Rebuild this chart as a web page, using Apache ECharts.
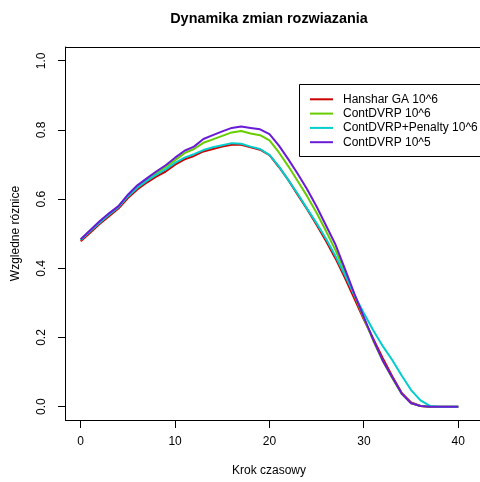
<!DOCTYPE html>
<html>
<head>
<meta charset="utf-8">
<script src="https://cdn.jsdelivr.net/npm/echarts@6/dist/echarts.min.js"></script>
<style>html,body{margin:0;padding:0;background:#fff;}#c{width:480px;height:482px;}</style>
</head>
<body>
<div id="c"></div>
<script>
const steps = [0,1,2,3,4,5,6,7,8,9,10,11,12,13,14,15,16,17,18,19,20,21,22,23,24,25,26,27,28,29,30,31,32,33,34,35,36,37,38,39,40];
const hanshar = [0.478,0.503,0.528,0.551,0.573,0.603,0.628,0.648,0.665,0.680,0.700,0.715,0.725,0.738,0.745,0.752,0.757,0.757,0.750,0.743,0.727,0.693,0.655,0.612,0.570,0.525,0.478,0.428,0.372,0.312,0.252,0.196,0.140,0.088,0.040,0.012,0.002,0,0,0,0];
const contdvrp6 = [0.483,0.509,0.535,0.558,0.579,0.611,0.638,0.657,0.676,0.693,0.713,0.733,0.745,0.763,0.773,0.783,0.793,0.797,0.790,0.785,0.770,0.735,0.695,0.652,0.608,0.560,0.507,0.452,0.390,0.322,0.255,0.190,0.132,0.083,0.037,0.010,0.002,0,0,0,0];
const penalty6 = [0.482,0.507,0.532,0.555,0.577,0.608,0.633,0.653,0.670,0.686,0.705,0.720,0.730,0.742,0.750,0.756,0.762,0.760,0.752,0.745,0.728,0.695,0.655,0.615,0.572,0.530,0.485,0.435,0.380,0.322,0.270,0.220,0.175,0.135,0.090,0.048,0.018,0.002,0,0,0];
const contdvrp5 = [0.484,0.510,0.536,0.559,0.580,0.613,0.640,0.660,0.680,0.698,0.720,0.740,0.752,0.774,0.785,0.796,0.806,0.810,0.806,0.802,0.788,0.755,0.715,0.673,0.628,0.578,0.523,0.468,0.398,0.326,0.258,0.193,0.133,0.085,0.038,0.010,0.002,0,0,0,0];
const seriesNames = ['Hanshar GA 10^6','ContDVRP 10^6','ContDVRP+Penalty 10^6','ContDVRP 10^5'];
const seriesColors = ['#CD0000','#66CD00','#00CDCD','#6A1BD6'];
const xTicks = [0,10,20,30,40];
const yTicks = [0,0.2,0.4,0.6,0.8,1.0];
const titleText = 'Dynamika zmian rozwiazania';
const xTitle = 'Krok czasowy';
const yTitle = 'Wzgledne róznice';

const values = [hanshar, contdvrp6, penalty6, contdvrp5];
const font = "'Liberation Sans', Arial, Helvetica, sans-serif";
const chart = echarts.init(document.getElementById('c'), null, {renderer:'canvas'});
const xMin = -1.6, xMax = 42.3, yMin = -0.04, yMax = 1.04;
const baseGraphic = [
  {id: 'legbox', type: 'rect', z: 0, shape: {x: 299.5, y: 84.5, width: 220, height: 72}, style: {fill: '#fff', stroke: '#000', lineWidth: 1}},
  {id: 't1', type: 'text', x: 269, y: 19, style: {text: titleText, font: 'bold 14.4px ' + font, fill: '#000', textAlign: 'center', textVerticalAlign: 'middle'}},
  {id: 't2', type: 'text', x: 269, y: 471, style: {text: xTitle, font: '12px ' + font, fill: '#000', textAlign: 'center', textVerticalAlign: 'middle'}},
  {id: 't3', type: 'text', x: 16, y: 233.5, rotation: Math.PI/2, style: {text: yTitle, font: '12px ' + font, fill: '#000', textAlign: 'center', textVerticalAlign: 'middle'}}
];
chart.setOption({
  animation: false,
  backgroundColor: '#fff',
  textStyle: {fontFamily: font},
  grid: {left: 65.6, top: 47, right: 0, bottom: 61.5, show: false},
  xAxis: [{
    type: 'value', min: xMin, max: xMax, position: 'bottom',
    splitLine: {show: false},
    axisLine: {show: true, onZero: false, lineStyle: {color: '#000', width: 1}},
    axisTick: {show: false},
    axisLabel: {show: true, customValues: xTicks, margin: 15, fontSize: 12, color: '#000', fontFamily: font}
  }, {
    type: 'value', min: xMin, max: xMax, position: 'top',
    splitLine: {show: false},
    axisLine: {show: true, onZero: false, lineStyle: {color: '#000', width: 1}},
    axisTick: {show: false}, axisLabel: {show: false}
  }],
  yAxis: {
    type: 'value', min: yMin, max: yMax,
    splitLine: {show: false},
    axisLine: {show: true, onZero: false, lineStyle: {color: '#000', width: 1}},
    axisTick: {show: false},
    axisLabel: {show: true, customValues: yTicks, rotate: 90, margin: 18, fontSize: 12, color: '#000', fontFamily: font,
      formatter: v => v.toFixed(1)}
  },
  legend: {
    orient: 'vertical', left: 299, top: 84,
    data: seriesNames,
    icon: 'rect', itemWidth: 23, itemHeight: 2, itemGap: 0.3,
    padding: [8.3, 10, 7.5, 11],
    borderWidth: 0,
    textStyle: {fontSize: 12, lineHeight: 14, color: '#000', fontFamily: font, padding: [0,0,0,5]}
  },
  graphic: baseGraphic,
  series: seriesNames.map((n, i) => ({
    name: n, type: 'line', showSymbol: false, symbol: 'none',
    color: seriesColors[i],
    lineStyle: {width: 2, color: seriesColors[i]},
    data: steps.map((s, j) => [s, values[i][j]])
  }))
});
// tick marks as thin filled bars, positioned through the library's own scales
const axisYpx = Math.floor(chart.convertToPixel({yAxisIndex: 0}, yMin));
const axisXpx = Math.floor(chart.convertToPixel({xAxisIndex: 0}, xMin));
const tickGraphics = [];
xTicks.forEach((t, i) => {
  const px = Math.floor(chart.convertToPixel({xAxisIndex: 0}, t));
  tickGraphics.push({id: 'xt' + i, type: 'rect', z: 100, silent: true,
    shape: {x: px, y: axisYpx, width: 1, height: 8}, style: {fill: '#000', stroke: null}});
});
yTicks.forEach((t, i) => {
  const py = Math.floor(chart.convertToPixel({yAxisIndex: 0}, t));
  tickGraphics.push({id: 'yt' + i, type: 'rect', z: 100, silent: true,
    shape: {x: axisXpx - 7, y: py, width: 8, height: 1}, style: {fill: '#000', stroke: null}});
});
chart.setOption({graphic: baseGraphic.concat(tickGraphics)});
</script>
</body>
</html>
